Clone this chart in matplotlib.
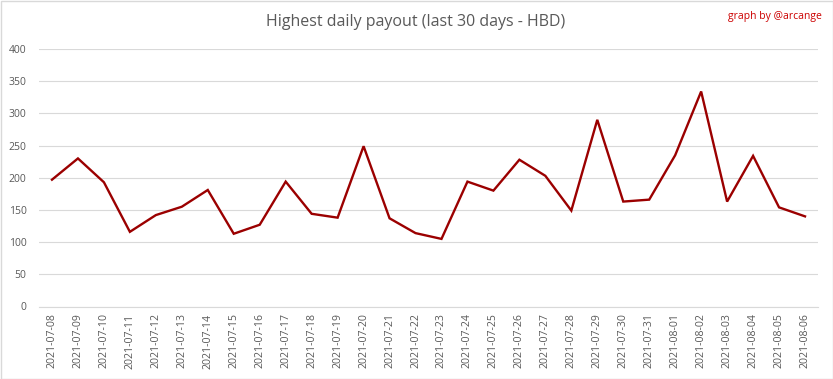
import matplotlib
matplotlib.use("Agg")
import matplotlib.pyplot as plt
from matplotlib.patches import Rectangle

dates = ["2021-07-08", "2021-07-09", "2021-07-10", "2021-07-11", "2021-07-12",
         "2021-07-13", "2021-07-14", "2021-07-15", "2021-07-16", "2021-07-17",
         "2021-07-18", "2021-07-19", "2021-07-20", "2021-07-21", "2021-07-22",
         "2021-07-23", "2021-07-24", "2021-07-25", "2021-07-26", "2021-07-27",
         "2021-07-28", "2021-07-29", "2021-07-30", "2021-07-31", "2021-08-01",
         "2021-08-02", "2021-08-03", "2021-08-04", "2021-08-05", "2021-08-06"]
payout = [197, 230, 193, 116, 142, 155, 181, 113, 127, 194,
          144, 138, 249, 137, 114, 105, 194, 180, 228, 203,
          149, 290, 163, 166, 235, 334, 163, 234, 154, 140]
yticks = [0, 50, 100, 150, 200, 250, 300, 350, 400]

plt.rcParams['font.family'] = ['Open Sans', 'DejaVu Sans']

fig = plt.figure(figsize=(8.33, 3.79), dpi=100)
ax = fig.add_axes([39/833, 1-306.5/379, (818-39)/833, (306.5-49)/379])

x = list(range(len(dates)))
ax.plot(x, payout, color='#9b0000', linewidth=1.7, solid_joinstyle='miter')

ax.set_xlim(-0.5, len(dates)-0.5)
ax.set_ylim(0, 400)
ax.set_yticks(yticks)
ax.set_yticklabels([str(v) for v in yticks], fontsize=7.5, color='#595959')
ax.set_xticks(x)
ax.set_xticklabels(dates, rotation=90, fontsize=7.6, color='#595959')
ax.tick_params(axis='both', length=0)
ax.tick_params(axis='y', pad=9)
ax.tick_params(axis='x', pad=5)
ax.grid(axis='y', color='#d9d9d9', linewidth=0.8)
ax.set_axisbelow(True)
for s in ['top', 'right', 'left']:
    ax.spines[s].set_visible(False)
ax.spines['bottom'].set_color('#d9d9d9')
ax.spines['bottom'].set_linewidth(0.8)

fig.text(416/833, 1-22/379, "Highest daily payout (last 30 days - HBD)",
         ha='center', va='center', fontsize=11.5, color='#595959')
fig.text(822/833, 1-17/379, "graph by @arcange", ha='right', va='center',
         fontsize=7.5, color='#cc0000')

fig.patches.append(Rectangle((0.5/833, 0.5/379), 1-1/833, 1-1/379,
                             transform=fig.transFigure, fill=False,
                             edgecolor='#d9d9d9', linewidth=1))

fig.savefig("out.png", dpi=100)
